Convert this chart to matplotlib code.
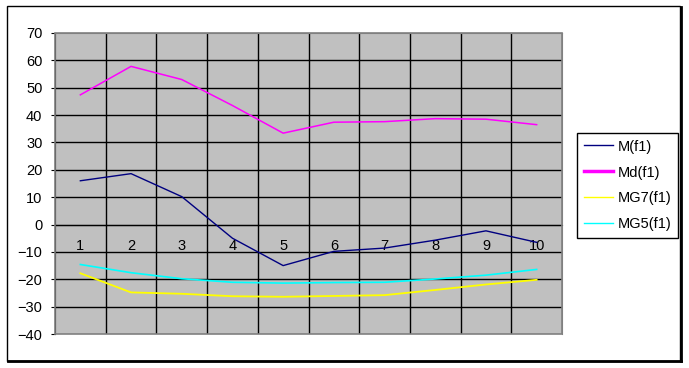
import numpy as np
import matplotlib
matplotlib.use('Agg')
import matplotlib.pyplot as plt
from matplotlib.lines import Line2D
from matplotlib.patches import Rectangle

plt.rcParams['font.family'] = ['Liberation Sans', 'DejaVu Sans']

cats = [1, 2, 3, 4, 5, 6, 7, 8, 9, 10]
m_f1 = [16, 18.6, 10.2, -5, -15, -9.8, -8.6, -5.7, -2.3, -6.5]
md_f1 = [47.4, 57.8, 53, 43.5, 33.4, 37.4, 37.6, 38.7, 38.5, 36.5]
mg7_f1 = [-17.8, -24.8, -25.3, -26.2, -26.4, -26.1, -25.8, -23.9, -21.9, -20.2]
mg5_f1 = [-14.6, -17.6, -19.8, -21.1, -21.4, -21.2, -21.1, -19.9, -18.5, -16.4]

fig = plt.figure(figsize=(6.89, 3.68), dpi=100)
ax = fig.add_axes([55/689, 1-334/368, 507/689, 301/368])
ax.set_facecolor('#C0C0C0')

ax.set_xlim(0.5, 10.5)
ax.set_ylim(-40, 70)
ax.set_yticks(np.arange(-40, 71, 10))

# grid: horizontal every 10, vertical between categories
for y in np.arange(-30, 70, 10):
    ax.axhline(y, color='black', lw=1, zorder=1)
for x in np.arange(1.5, 10.5, 1):
    ax.axvline(x, color='black', lw=1, zorder=1)

ax.plot(cats, m_f1, color='#000080', lw=1, zorder=3)
ax.plot(cats, md_f1, color='#FF00FF', lw=1.1, zorder=3)
ax.plot(cats, mg7_f1, color='#FFFF00', lw=1.3, zorder=3)
ax.plot(cats, mg5_f1, color='#00FFFF', lw=1.2, zorder=3)

# category axis crosses at 0
ax.spines['bottom'].set_position(('data', 0))
ax.spines['bottom'].set_color('black')
ax.spines['left'].set_color('black')
ax.spines['top'].set_color('#808080')
ax.spines['right'].set_color('#808080')
ax.add_patch(Rectangle((0, 0), 1, 1, transform=ax.transAxes, fill=False,
                       ec='#808080', lw=1.2, zorder=5, clip_on=False))
ax.set_xticks(cats)
ax.set_xticklabels([str(c) for c in cats])
ax.set_xticks(np.arange(0.5, 11, 1), minor=True)
ax.tick_params(axis='x', which='major', length=0, pad=10.5, labelsize=10.5)
ax.tick_params(axis='x', which='minor', length=3, direction='out')
ax.tick_params(axis='y', length=3, direction='out', pad=6, labelsize=10.5)

handles = [Line2D([], [], color='#000080', lw=1),
           Line2D([], [], color='#FF00FF', lw=2.5),
           Line2D([], [], color='#FFFF00', lw=1),
           Line2D([], [], color='#00FFFF', lw=1)]
leg = fig.legend(handles, ['M(f1)', 'Md(f1)', 'MG7(f1)', 'MG5(f1)'],
                 loc='upper left', bbox_to_anchor=(577/689, 1-133/368),
                 fontsize=10.5, frameon=True, fancybox=False, framealpha=1,
                 edgecolor='black', handlelength=2.0, handletextpad=0.35,
                 labelspacing=0.82, borderpad=0.45, borderaxespad=0)
leg.get_frame().set_linewidth(1)

# chart area border with shadow
fig.add_artist(Rectangle((7/689, 1-361/368), 673/689, 355/368, transform=fig.transFigure,
                         fill=False, ec='black', lw=1))
fig.add_artist(Line2D([8/689, 681/689], [1-361/368, 1-361/368], transform=fig.transFigure,
                      color='black', lw=2))
fig.add_artist(Line2D([681/689, 681/689], [1-361/368, 1-7/368], transform=fig.transFigure,
                      color='black', lw=2))

fig.savefig('out.png', dpi=100)
